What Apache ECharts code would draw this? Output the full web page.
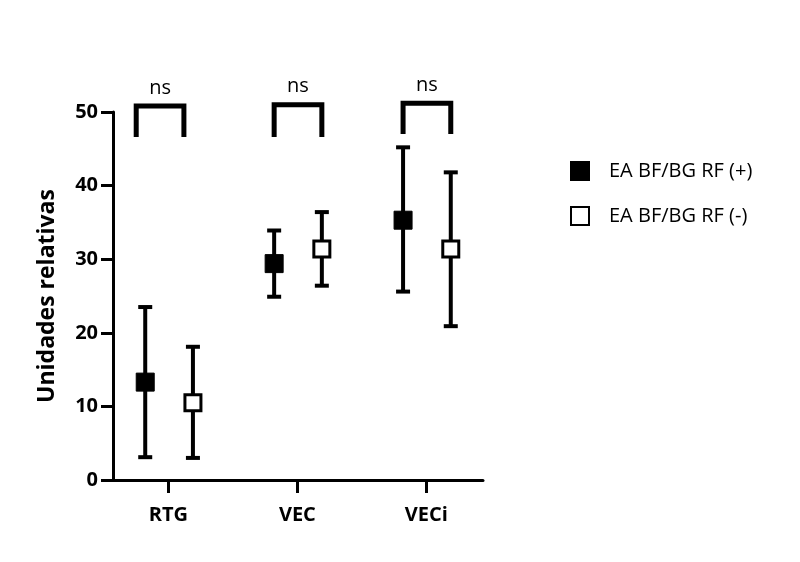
<!DOCTYPE html>
<html>
<head>
<meta charset="utf-8">
<script src="https://cdn.jsdelivr.net/npm/echarts@6/dist/echarts.min.js"></script>
<style>
  html, body { margin: 0; padding: 0; background: #fff; }
  #chart { width: 800px; height: 562px; }
</style>
</head>
<body>
<div id="chart"></div>
<script>
const categories = ['RTG', 'VEC', 'VECi']
const seriesNames = ['EA BF/BG RF (+)', 'EA BF/BG RF (-)']

// mean, lower, upper per category
const posMean = [13.3, 29.4, 35.3]
const posLow = [3.1, 24.9, 25.6]
const posHigh = [23.5, 33.9, 45.2]

const negMean = [10.5, 31.4, 31.4]
const negLow = [3.0, 26.4, 20.9]
const negHigh = [18.1, 36.4, 41.8]

// x offset of each group inside a category
const groupOffset = [-0.18, 0.19]

// significance brackets: left x, right x (category units), top, leg bottom
const bracketLeft = [-0.25, -0.18, -0.18]
const bracketRight = [0.12, 0.19, 0.19]
const bracketTop = [50.8, 51.0, 51.2]
const bracketBottom = [46.6, 46.6, 47.0]
const bracketLabel = ['ns', 'ns', 'ns']

const yTicks = [0, 10, 20, 30, 40, 50]

const font = '"Open Sans", sans-serif'
const chart = echarts.init(document.getElementById('chart'))

function points(mean, g) {
  return mean.map((v, i) => [i + groupOffset[g], v])
}
function bars(low, high, g) {
  return low.map((v, i) => [i + groupOffset[g], v, high[i]])
}

function errorBar(params, api) {
  const x = api.value(0)
  const lo = api.coord([x, api.value(1)])
  const hi = api.coord([x, api.value(2)])
  const cap = 7
  const style = { stroke: '#000', lineWidth: 4 }
  return {
    type: 'group',
    children: [
      { type: 'line', shape: { x1: lo[0], y1: lo[1], x2: hi[0], y2: hi[1] }, style },
      { type: 'line', shape: { x1: lo[0] - cap, y1: lo[1], x2: lo[0] + cap, y2: lo[1] }, style },
      { type: 'line', shape: { x1: hi[0] - cap, y1: hi[1], x2: hi[0] + cap, y2: hi[1] }, style }
    ]
  }
}

function bracket(params, api) {
  const l = api.value(0), r = api.value(1), t = api.value(2), b = api.value(3)
  const p1 = api.coord([l, b])
  const p2 = api.coord([l, t])
  const p3 = api.coord([r, t])
  const p4 = api.coord([r, b])
  return {
    type: 'group',
    children: [
      {
        type: 'polyline',
        shape: { points: [p1, p2, p3, p4] },
        style: { stroke: '#000', lineWidth: 5, fill: null, lineJoin: 'miter' }
      },
      {
        type: 'text',
        x: (p2[0] + p3[0]) / 2,
        y: p2[1] - 8,
        style: {
          text: bracketLabel[params.dataIndex],
          fill: '#000',
          font: '20px ' + font,
          align: 'center',
          verticalAlign: 'bottom'
        }
      }
    ]
  }
}

const option = {
  animation: false,
  backgroundColor: '#fff',
  textStyle: { fontFamily: font },
  grid: { left: 113, right: 317, top: 112, bottom: 82 },
  legend: {
    orient: 'vertical',
    left: 565,
    top: 156,
    itemWidth: 18,
    itemHeight: 18,
    itemGap: 25,
    data: seriesNames,
    textStyle: { fontSize: 20, lineHeight: 20, color: '#000', fontFamily: font, padding: [0, 0, 0, 15] }
  },
  xAxis: {
    type: 'value',
    min: -0.43,
    max: 2.44,
    splitLine: { show: false },
    axisLine: { onZero: false, lineStyle: { color: '#000', width: 3 } },
    axisTick: { customValues: [0, 1, 2], length: 13, lineStyle: { color: '#000', width: 3 } },
    axisLabel: {
      customValues: [0, 1, 2],
      formatter: v => categories[Math.round(v)],
      fontSize: 20,
      fontWeight: 'bold',
      color: '#000',
      margin: 25
    }
  },
  yAxis: {
    type: 'value',
    min: 0,
    max: 50,
    interval: 10,
    name: 'Unidades relativas',
    nameLocation: 'middle',
    nameGap: 54,
    nameTextStyle: { fontSize: 23, fontWeight: 'bold', color: '#000' },
    splitLine: { show: false },
    axisLine: { show: true, onZero: false, lineStyle: { color: '#000', width: 3 } },
    axisTick: { show: true, length: 12, lineStyle: { color: '#000', width: 3 } },
    axisLabel: {
      formatter: v => (yTicks.includes(v) ? String(v) : ''),
      fontSize: 20,
      fontWeight: 'bold',
      color: '#000',
      margin: 15
    }
  },
  series: [
    {
      type: 'custom',
      renderItem: errorBar,
      data: bars(posLow, posHigh, 0),
      encode: { x: 0, y: [1, 2] },
      z: 2,
      silent: true
    },
    {
      type: 'custom',
      renderItem: errorBar,
      data: bars(negLow, negHigh, 1),
      encode: { x: 0, y: [1, 2] },
      z: 2,
      silent: true
    },
    {
      name: seriesNames[0],
      type: 'scatter',
      symbol: 'rect',
      symbolSize: 18,
      data: points(posMean, 0),
      itemStyle: { color: '#000', borderColor: '#000', borderWidth: 1, opacity: 1 },
      z: 5
    },
    {
      name: seriesNames[1],
      type: 'scatter',
      symbol: 'rect',
      symbolSize: 16,
      data: points(negMean, 1),
      itemStyle: { color: '#fff', borderColor: '#000', borderWidth: 3, opacity: 1 },
      z: 5
    },
    {
      type: 'custom',
      renderItem: bracket,
      data: bracketLeft.map((l, i) => [i + l, i + bracketRight[i], bracketTop[i], bracketBottom[i]]),
      encode: { x: [0, 1], y: [2, 3] },
      clip: false,
      silent: true
    }
  ]
}

chart.setOption(option)
</script>
</body>
</html>
